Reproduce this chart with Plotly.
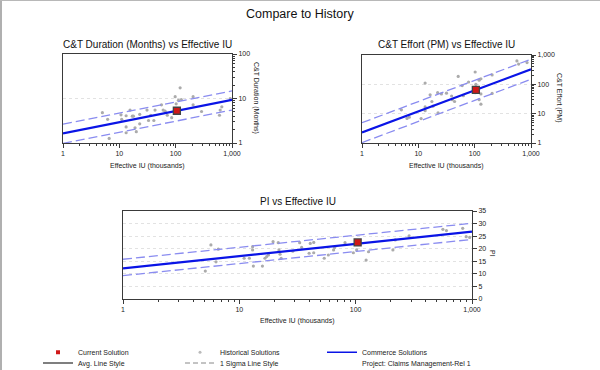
import plotly.graph_objects as go

# ---------------- data ----------------
line_x = [1, 1000]

dur_avg = [1.65, 9.3]
dur_hi = [2.65, 14.8]
dur_lo = [0.98, 5.5]
dur_cur_x = [105]
dur_cur_y = [5.3]
dur_hist_x = [5.0, 6.2, 6.6, 10.7, 11, 13.2, 13.2, 13.2, 15.5, 17, 17.8, 19, 20, 23, 23,
              31, 33, 36, 43, 41, 56, 60, 65, 71, 85, 98, 102, 112, 120, 126, 204, 204,
              288, 600, 617, 660, 930]
dur_hist_y = [4.8, 3.4, 1.27, 4.3, 3.4, 4.1, 2.3, 1.7, 5.5, 4.0, 4.0, 2.2, 1.8, 4.4, 2.7,
              5.5, 3.2, 4.2, 5.5, 3.2, 7.2, 5.5, 5.2, 4.2, 3.7, 11, 7.6, 9.1, 17.4, 9.5, 11, 7.2,
              5.1, 4.2, 5.5, 6.5, 10]

eff_avg = [2.3, 327]
eff_hi = [4.9, 720]
eff_lo = [1.03, 149]
eff_cur_x = [105]
eff_cur_y = [65]
eff_hist_x = [5, 6.3, 6.9, 11.2, 13.2, 13.2, 13.2, 16.2, 17.4, 18.2, 22, 22.4, 25.7, 31.6,
              39, 40, 44, 51, 60, 63, 78, 102, 105, 102, 120, 129, 120, 129, 129, 204, 204,
              562, 603, 851]
eff_hist_y = [13.5, 6.9, 7.6, 6.8, 110, 17, 12.6, 44, 26, 18, 52, 10.7, 47, 50,
              40, 30, 26, 186, 91, 41, 120, 263, 100, 52, 138, 155, 30, 47, 21, 209, 49,
              630, 490, 550]

pi_avg = [12.2, 26.8]
pi_hi = [15.8, 30.1]
pi_lo = [9.3, 23.7]
pi_cur_x = [104]
pi_cur_y = [22.5]
pi_hist_x = [5.1, 5.7, 6.3, 6.6, 11, 12.2, 13.2, 13, 13, 15.8, 16.6, 17.2, 17.8, 19.5, 21.6,
             21.9, 22.4, 22.9, 28.8, 33, 34.3, 39.8, 40.7, 43.6, 43.6, 53.7, 58.2, 64.6, 66,
             81, 95.5, 102, 123, 129, 209, 219, 288, 562, 603, 832, 891, 955]
pi_hist_y = [11.1, 21.5, 14.8, 19.8, 16.2, 16.2, 13.1, 19.5, 20.8, 13.1, 16.2, 16.9, 17.5,
             22.8, 22.4, 19.5, 17.8, 16.2, 19.0, 22.4, 20.5, 18.2, 22.1, 22.5, 18.4, 16.2,
             17.5, 19.5, 20.5, 22.4, 18.4, 19.5, 15.5, 18.8, 19.5, 23.5, 25.1, 27.7, 27.2,
             28.1, 24.8, 24.5]

x_tickvals = [1, 10, 100, 1000]
x_ticktext = ["1", "10", "100", "1,000"]
log_minor = [2, 3, 4, 5, 6, 7, 8, 9, 20, 30, 40, 50, 60, 70, 80, 90, 200, 300, 400, 500,
             600, 700, 800, 900]
dur_y_ticks = [1, 10, 100]
dur_y_text = ["1", "10", "100"]
eff_y_ticks = [1, 10, 100, 1000]
eff_y_text = ["1", "10", "100", "1,000"]
pi_y_ticks = [0, 5, 10, 15, 20, 25, 30, 35]

titles = ["C&T Duration (Months) vs Effective IU", "C&T Effort (PM) vs Effective IU",
          "PI vs Effective IU"]
ytitles = ["C&T Duration (Months)", "C&T Effort (PM)", "PI"]
xtitle = "Effective IU (thousands)"

# ---------------- style ----------------
W, H = 600, 370
FONT = "Arial, 'Liberation Sans', sans-serif"
BLUE = "#0a14e6"
DASH = "#8a8cf0"
HIST = "#ababab"
RED = "#d01818"
FRAME = "#3a3a3a"


def px(p):
    return p / W


def py(p):
    return 1 - p / H


fig = go.Figure()

panels = [
    ("x", "y", dur_avg, dur_hi, dur_lo, dur_cur_x, dur_cur_y, dur_hist_x, dur_hist_y),
    ("x2", "y2", eff_avg, eff_hi, eff_lo, eff_cur_x, eff_cur_y, eff_hist_x, eff_hist_y),
    ("x3", "y3", pi_avg, pi_hi, pi_lo, pi_cur_x, pi_cur_y, pi_hist_x, pi_hist_y),
]

for i, (xa, ya, avg, hi, lo, cx, cy, hx, hy) in enumerate(panels):
    fig.add_trace(go.Scatter(x=hx, y=hy, xaxis=xa, yaxis=ya, mode="markers",
                             marker=dict(symbol="circle", size=3.2, color=HIST),
                             name="Historical Solutions", showlegend=False, hoverinfo="skip"))
    for band in (hi, lo):
        fig.add_trace(go.Scatter(x=line_x, y=band, xaxis=xa, yaxis=ya, mode="lines",
                                 line=dict(color=DASH, width=1.3, dash="9px,4px"),
                                 showlegend=False, hoverinfo="skip"))
    fig.add_trace(go.Scatter(x=line_x, y=avg, xaxis=xa, yaxis=ya, mode="lines",
                             line=dict(color=BLUE, width=2.2),
                             name="Commerce Solutions", showlegend=False, hoverinfo="skip"))
    fig.add_trace(go.Scatter(x=cx, y=cy, xaxis=xa, yaxis=ya, mode="markers",
                             marker=dict(symbol="square", size=7, color=RED,
                                         line=dict(color="#444444", width=1.3)),
                             name="Current Solution", showlegend=False, hoverinfo="skip"))

# legend entries (row 1 and row 2)
leg = dict(xaxis="x", yaxis="y", x=[None], y=[None], hoverinfo="skip")
fig.add_trace(go.Scatter(**leg, mode="markers", name="Current Solution", legend="legend",
                         marker=dict(symbol="square", size=4, color=RED)))
fig.add_trace(go.Scatter(**leg, mode="markers", name="Historical Solutions", legend="legend",
                         marker=dict(symbol="circle", size=3, color="#bbbbbb")))
fig.add_trace(go.Scatter(**leg, mode="lines", name="Commerce Solutions", legend="legend",
                         legendwidth=140, line=dict(color=BLUE, width=1.5)))
fig.add_trace(go.Scatter(**leg, mode="lines", name="Avg. Line Style", legend="legend2",
                         line=dict(color="#000000", width=1.2)))
fig.add_trace(go.Scatter(**leg, mode="lines", name="1 Sigma Line Style", legend="legend2",
                         line=dict(color="#888888", width=1, dash="5px,3px")))
fig.add_trace(go.Scatter(**leg, mode="lines", name="Project: Claims Management-Rel 1",
                         legend="legend2", legendwidth=140,
                         line=dict(color="rgba(0,0,0,0)", width=0)))

tickfont = dict(family=FONT, size=7, color="#222222")


def xaxis_cfg(dom, anchor):
    return dict(domain=dom, anchor=anchor, type="log", range=[0, 3],
                tickvals=x_tickvals, ticktext=x_ticktext, ticks="outside", ticklen=4,
                tickcolor=FRAME, tickfont=tickfont, showgrid=False, zeroline=False,
                showline=True, linecolor=FRAME, linewidth=1, mirror=True,
                minor=dict(tickvals=log_minor, ticks="outside", ticklen=2, tickcolor=FRAME,
                           showgrid=False))


def grid_y(dom, anchor, typ, rng, vals, text, minor=None):
    d = dict(domain=dom, anchor=anchor, type=typ, range=rng, side="right",
             tickvals=vals, ticktext=text, ticks="outside", ticklen=4, tickcolor=FRAME,
             tickfont=tickfont, showgrid=True, gridcolor="#e2e2e2", griddash="dot",
             gridwidth=1, zeroline=False, showline=True, linecolor=FRAME, linewidth=1,
             mirror=True)
    if minor is not None:
        d["minor"] = dict(tickvals=minor, ticks="outside", ticklen=2, tickcolor=FRAME,
                          showgrid=False)
    return d


legfont = dict(family=FONT, size=7, color="#222222")
fig.update_layout(
    width=W, height=H, autosize=False,
    margin=dict(l=0, r=0, t=0, b=0, autoexpand=False),
    paper_bgcolor="white", plot_bgcolor="white",
    font=dict(family=FONT, size=7, color="#222222"),
    xaxis=xaxis_cfg([px(63), px(232)], "y"),
    yaxis=grid_y([py(143), py(54)], "x", "log", [0, 2], dur_y_ticks, dur_y_text,
                 [2, 3, 4, 5, 6, 7, 8, 9, 20, 30, 40, 50, 60, 70, 80, 90]),
    xaxis2=xaxis_cfg([px(362), px(531)], "y2"),
    yaxis2=grid_y([py(143), py(55)], "x2", "log", [0, 3], eff_y_ticks, eff_y_text,
                  log_minor),
    xaxis3=xaxis_cfg([px(123), px(472)], "y3"),
    yaxis3=grid_y([py(299), py(211)], "x3", "linear", [0, 35], pi_y_ticks,
                  [str(v) for v in pi_y_ticks]),
    legend=dict(orientation="h", x=px(38), y=py(352.2), xanchor="left", yanchor="middle",
                entrywidth=97, entrywidthmode="pixels", bgcolor="rgba(0,0,0,0)",
                font=legfont, itemwidth=30),
    legend2=dict(orientation="h", x=px(38), y=py(363), xanchor="left", yanchor="middle",
                 entrywidth=97, entrywidthmode="pixels", bgcolor="rgba(0,0,0,0)",
                 font=legfont, itemwidth=30),
)

ann = []
ann.append(dict(text="Compare to History", x=px(300), y=py(14)))
ann[-1]["font"] = dict(family=FONT, size=12.5, color="#111111")
for t, cx, cy in zip(titles, [147.5, 446.5, 297.5], [45, 45, 201]):
    ann.append(dict(text=t, x=px(cx), y=py(cy),
                    font=dict(family=FONT, size=10, color="#111111")))
for cx, cy in [(147.5, 166), (446.5, 166), (297.5, 321)]:
    ann.append(dict(text=xtitle, x=px(cx), y=py(cy),
                    font=dict(family=FONT, size=7, color="#222222")))
for t, cx, cy in zip(ytitles, [256, 559, 493], [98, 98, 253]):
    ann.append(dict(text=t, x=px(cx), y=py(cy), textangle=90,
                    font=dict(family=FONT, size=7, color="#222222")))
for a in ann:
    a.update(xref="paper", yref="paper", showarrow=False, xanchor="center",
             yanchor="middle")
fig.update_layout(annotations=ann)

# window border (top and left edges)
fig.update_layout(shapes=[
    dict(type="line", xref="paper", yref="paper", x0=px(1), x1=px(1), y0=0, y1=1,
         line=dict(color="#b0b0b0", width=2)),
    dict(type="line", xref="paper", yref="paper", x0=0, x1=1, y0=py(0.5), y1=py(0.5),
         line=dict(color="#b8b8b8", width=1)),
])

fig.write_html("out.html", config={"displayModeBar": False},
               post_script="document.body.style.margin='0';")
